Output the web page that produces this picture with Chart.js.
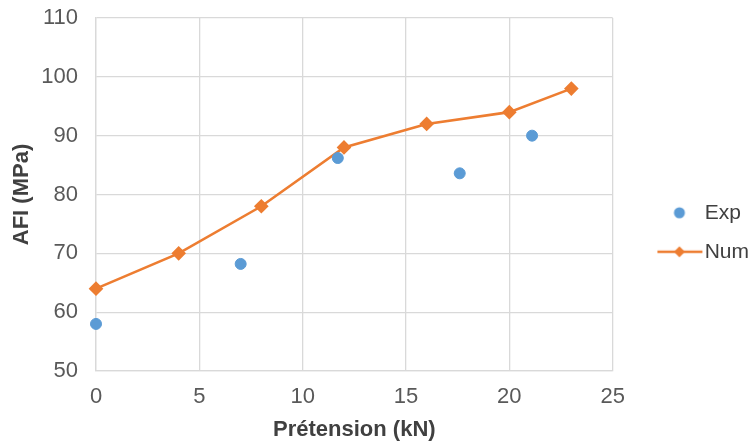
<!DOCTYPE html>
<html>
<head>
<meta charset="utf-8">
<script src="https://cdn.jsdelivr.net/npm/chart.js@4"></script>
<style>
  html, body { margin: 0; padding: 0; background: #fff; }
  #wrap { width: 755px; height: 443px; }
</style>
</head>
<body>
<div id="wrap"><canvas id="chart" width="755" height="443"></canvas></div>
<script>
// AFI vs pretension: experimental points + numerical curve
const expX = [0, 7, 11.7, 17.6, 21.1];
const expY = [58, 68.2, 86.2, 83.6, 90];
const numX = [0, 4, 8, 12, 16, 20, 23];
const numY = [64, 70, 78, 88, 92, 94, 98];

const blue = "#5B9BD5";
const orange = "#ED7D31";
const gridColor = "#D9D9D9";
const tickColor = "#595959";
const titleColor = "#404040";
const fontFamily = "'Liberation Sans', Arial, sans-serif";

function pairs(xs, ys) {
  return xs.map((x, i) => ({ x: x, y: ys[i] }));
}

// legend symbols drawn on small canvases (marker only / line + marker)
function legendIcon(withLine) {
  const c = document.createElement("canvas");
  c.width = 90; c.height = 14;
  const ctx = c.getContext("2d");
  if (withLine) {
    ctx.strokeStyle = orange;
    ctx.lineWidth = 2.5;
    ctx.beginPath();
    ctx.moveTo(40, 7); ctx.lineTo(85, 7);
    ctx.stroke();
    ctx.fillStyle = orange;
    ctx.beginPath();
    ctx.moveTo(62, 1.5); ctx.lineTo(67.5, 7); ctx.lineTo(62, 12.5); ctx.lineTo(56.5, 7);
    ctx.closePath();
    ctx.fill();
  } else {
    ctx.fillStyle = blue;
    ctx.beginPath();
    ctx.arc(62, 7, 5.5, 0, Math.PI * 2);
    ctx.fill();
  }
  return c;
}

const icons = [legendIcon(false), legendIcon(true)];

new Chart(document.getElementById("chart"), {
  type: "scatter",
  data: {
    datasets: [
      {
        label: "Exp",
        data: pairs(expX, expY),
        backgroundColor: blue,
        borderColor: blue,
        pointRadius: 5.5,
        pointHoverRadius: 5.5,
        showLine: false,
        clip: false
      },
      {
        label: "Num",
        data: pairs(numX, numY),
        backgroundColor: orange,
        borderColor: orange,
        borderWidth: 2.6,
        pointStyle: "rectRot",
        pointRadius: 5.5,
        pointHoverRadius: 5.5,
        showLine: true,
        tension: 0,
        clip: false
      }
    ]
  },
  options: {
    responsive: false,
    animation: false,
    layout: { padding: { top: 18, right: -4, left: 9, bottom: 0 } },
    plugins: {
      tooltip: { enabled: false },
      legend: {
        position: "right",
        align: "center",
        // tiny blank title only nudges the legend rows down a little
        title: { display: true, text: " ", font: { size: 3 }, padding: 0 },
        labels: {
          usePointStyle: true,
          pointStyleWidth: 63.5,
          color: "#404040",
          font: { family: fontFamily, size: 21 },
          padding: 18,
          generateLabels(chart) {
            return chart.data.datasets.map((ds, i) => ({
              text: ds.label,
              datasetIndex: i,
              fillStyle: ds.backgroundColor,
              strokeStyle: ds.borderColor,
              lineWidth: 0,
              pointStyle: icons[i],
              fontColor: "#404040",
              hidden: false
            }));
          }
        }
      }
    },
    scales: {
      x: {
        type: "linear",
        min: 0,
        max: 25,
        afterFit(scale) { scale.height = 72; },
        ticks: { stepSize: 5, color: tickColor, font: { family: fontFamily, size: 22 }, padding: 13 },
        grid: { color: gridColor, lineWidth: 1.3, drawTicks: false },
        border: { color: gridColor, width: 1.3 },
        title: { display: true, text: "Prétension (kN)", color: titleColor, font: { family: fontFamily, size: 22, weight: "bold" }, padding: { top: 6, bottom: 0 } }
      },
      y: {
        min: 50,
        max: 110,
        afterFit(scale) { scale.width = 87; scale.paddingTop = 0; },
        ticks: { stepSize: 10, color: tickColor, font: { family: fontFamily, size: 22 }, padding: 18 },
        grid: { color: gridColor, lineWidth: 1.3, drawTicks: false },
        border: { color: gridColor, width: 1.3 },
        title: { display: true, text: "AFI (MPa)", color: titleColor, font: { family: fontFamily, size: 22, weight: "bold" }, padding: { top: 0, bottom: 6 } }
      }
    }
  }
});
</script>
</body>
</html>
